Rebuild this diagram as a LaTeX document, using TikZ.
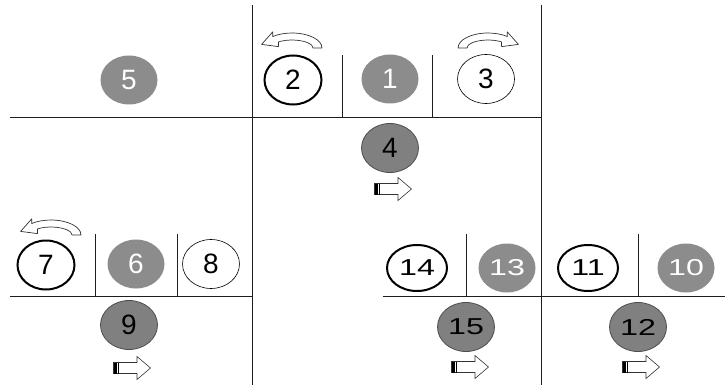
\documentclass[tikz,border=0pt]{standalone}
\usepackage{fontspec}
\setmainfont{Liberation Sans}
\usepackage{graphicx}
\usetikzlibrary{shapes.geometric}
\definecolor{ballgray}{RGB}{140,140,140}
\definecolor{balldark}{RGB}{128,128,128}
\definecolor{lin}{RGB}{30,30,30}
\newcommand{\two}[1]{\scalebox{1.4}[1]{\fontsize{23}{23}\selectfont #1}}
\tikzset{
  ball/.style={ellipse, minimum width=57pt, minimum height=49pt, inner sep=0pt,
    font=\fontsize{28}{28}\selectfont},
  plainball/.style={ball, fill=ballgray, text=white},
  darkball/.style={ball, fill=balldark, draw=black!70, line width=0.8pt, text=black},
  thickball/.style={ball, draw=black, line width=2pt, fill=white, text=black},
  thinball/.style={ball, draw=black, line width=0.6pt, fill=white, text=black},
  wall/.style={draw=lin, line width=0.9pt},
  curl/.pic={
    \draw[fill=white, line width=0.7pt, draw=black!80, line join=round]
      (34,0) arc[start angle=360, end angle=230, x radius=30, y radius=15]
      -- (-15.2,-16.2) -- (-26.4,-3.6) -- (-9.6,-1.4) -- (-9.5,-6.1)
      arc[start angle=230, end angle=360, x radius=21, y radius=8] -- cycle;
  },
  fwd/.pic={
    \draw[fill=white, line width=0.6pt, draw=black!80]
      (-18.5,-5.5) -- (5,-5.5) -- (5,-11.5) -- (18.5,0) -- (5,11.5) -- (5,5.5)
      -- (-18.5,5.5) -- cycle;
    \fill[black] (-18.5,-5.5) rectangle (-15.5,5.5);
    \draw[black, line width=1.2pt] (-13.2,-5.5) -- (-13.2,5.5);
  }
}
\begin{document}
\begin{tikzpicture}[x=1pt, y=-1pt]
\useasboundingbox (0,0) rectangle (727,385);
% partition lines
\path[wall] (252,5) -- (252,385);
\path[wall] (541,5) -- (541,385);
\path[wall] (10,117) -- (541,117);
\path[wall] (342,55) -- (342,117);
\path[wall] (432,55) -- (432,117);
\path[wall] (10,296) -- (252,296);
\path[wall] (95,234) -- (95,296);
\path[wall] (177,234) -- (177,296);
\path[wall] (383,296) -- (725,296);
\path[wall] (466,234) -- (466,296);
\path[wall] (638,234) -- (638,296);
% balls
\node[plainball] (n5) at (129,80) {5};
\node[thickball] (n2) at (293,80) {2};
\node[plainball] (n1) at (390,79) {1};
\node[thinball] (n3) at (486,79) {3};
\node[darkball] (n4) at (390,148) {4};
\node[thickball] (n7) at (46,265) {7};
\node[plainball] (n6) at (136,264) {6};
\node[thinball] (n8) at (211,264) {8};
\node[darkball] (n9) at (129,325) {9};
\node[thickball, minimum width=60pt, minimum height=46pt] (n14) at (417,268) {\two{14}};
\node[plainball] (n13) at (507,268) {\two{13}};
\node[thickball, minimum width=60pt, minimum height=46pt] (n11) at (588,268) {\two{11}};
\node[plainball] (n10) at (686,268) {\two{10}};
\node[darkball] (n15) at (466,327) {\two{15}};
\node[darkball] (n12) at (638,327) {\two{12}};
% turn arrows
\pic at (288,48) {curl};
\pic at (47,235) {curl};
\pic[xscale=-1] at (492,48) {curl};
% forward arrows
\pic at (393,189) {fwd};
\pic at (132,368) {fwd};
\pic at (470,367) {fwd};
\pic at (641,367) {fwd};
\end{tikzpicture}
\end{document}
